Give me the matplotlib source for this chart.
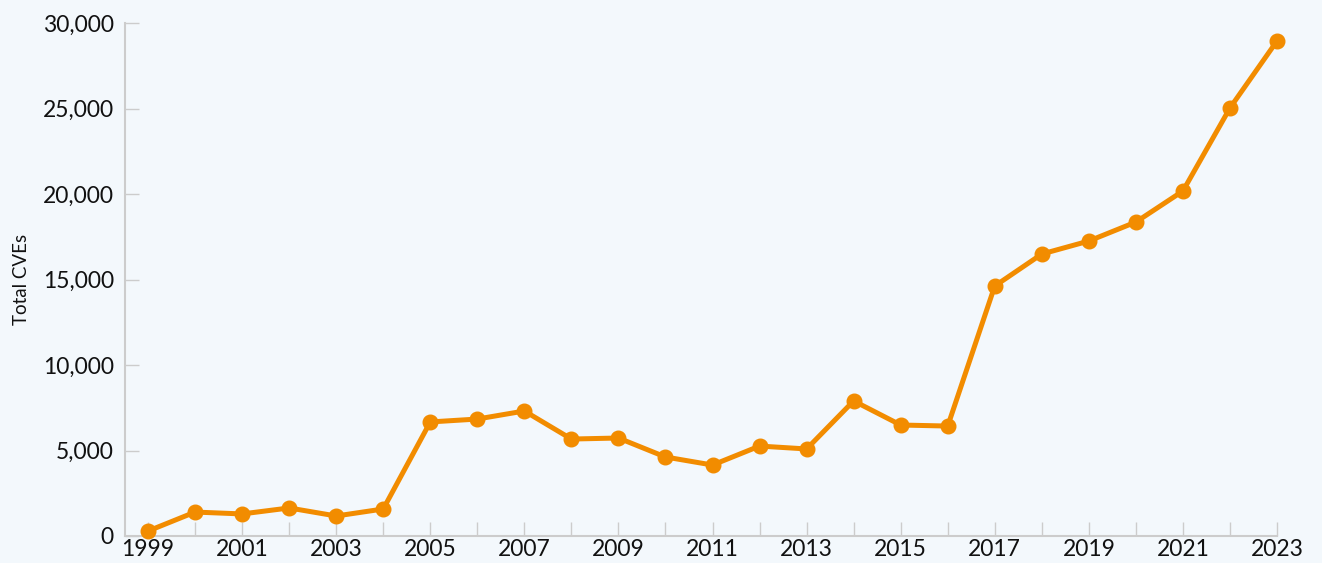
#!/usr/bin/env python3

import matplotlib.pyplot as plt

years = list(range(1999, 2024))
cves = [290, 1400, 1290, 1640, 1170, 1580, 6670, 6840, 7310, 5670, 5730,
        4620, 4150, 5260, 5090, 7900, 6490, 6430, 14620, 16490, 17250,
        18360, 20175, 25030, 28950]
y_ticks = [0, 5000, 10000, 15000, 20000, 25000, 30000]


def main():
    plt.rcParams['font.family'] = ['Lato', 'DejaVu Sans']
    bg = '#f3f8fc'
    fig = plt.figure(figsize=(13.22, 5.63), dpi=100, facecolor=bg)
    ax = fig.add_axes([125 / 1322, 27 / 563, 1152 / 1322, 513 / 563])
    ax.set_facecolor(bg)

    ax.plot(years, cves, color='#f28c00', lw=3.6, marker='o', ms=10.5,
            clip_on=False, zorder=3)

    ax.set_xlim(1998.51, 2023)
    ax.set_ylim(0, 30000)
    ax.set_xticks(years)
    ax.set_xticklabels([str(y) if y % 2 == 1 else '' for y in years])
    ax.set_yticks(y_ticks)
    ax.set_yticklabels([f'{v:,}' for v in y_ticks])

    for side in ['top', 'right']:
        ax.spines[side].set_visible(False)
    for side in ['left', 'bottom']:
        ax.spines[side].set_color('#cccccc')
        ax.spines[side].set_linewidth(1.5)
    ax.tick_params(axis='both', direction='in', length=10, width=1,
                   color='#cccccc', labelsize=16.5, labelcolor='#111111')
    ax.tick_params(axis='x', pad=2)
    ax.tick_params(axis='y', pad=8)

    ax.set_ylabel('Total CVEs', fontsize=13.5, color='#111111', labelpad=9)

    fig.savefig('out.png', facecolor=bg)


main()
